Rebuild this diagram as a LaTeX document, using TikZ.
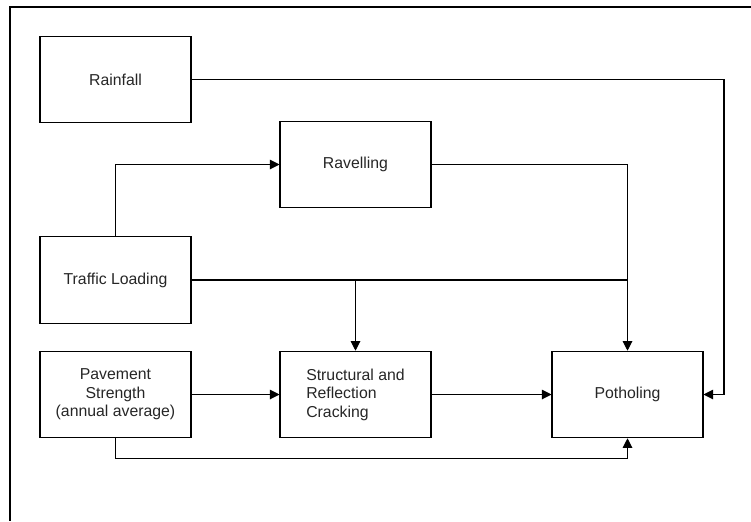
\documentclass[tikz,border=0pt]{standalone}
\usepackage{fontspec}
\setmainfont{Liberation Sans}
\usetikzlibrary{arrows.meta}
\tikzset{
    factor/.style={draw,line width=0.6pt,minimum width=3.02cm,minimum height=1.73cm,
        align=center,font=\fontsize{9}{10.5}\selectfont,text=black!85},
    link/.style={line width=0.6pt,-{Triangle[length=5.5pt,width=5.5pt]}}
}
\begin{document}
\begin{tikzpicture}[x=0.02cm,y=-0.02cm]
                \useasboundingbox (0,0) rectangle (751,521);
                \draw[line width=0.7pt] (751,7)--(10,7)--(10,521);
                \node[factor] (rain) at (115.5,79.5) {Rainfall};
                \node[factor] (ravel) at (355.5,164.5) {Ravelling};
                \node[factor] (traffic) at (115.5,280) {Traffic Loading};
                \node[factor] (pave) at (115.5,394.5) {Pavement\\Strength\\(annual average)};
                \node[factor,align=left] (crack) at (355.5,394.5) {Structural and\\Reflection\\Cracking};
                \node[factor] (pot) at (627.5,394.5) {Potholing};
                \coordinate (raincorner) at (724,79.5);
                \draw[link] (rain)--(raincorner) |- (pot);
                \draw[link] (ravel) -| (pot);
                \draw[link] (traffic) |- (ravel);
                \draw[line width=0.6pt] (traffic.east)--(traffic.east -| pot.north);
                \draw[link] (traffic.east -| crack.north)--(crack);
                \draw[link] (pave)--(crack);
                \draw[link] (crack)--(pot);
                \draw[link] (pave.south)--++(0,20) -| (pot.south);
            \end{tikzpicture}
\end{document}
